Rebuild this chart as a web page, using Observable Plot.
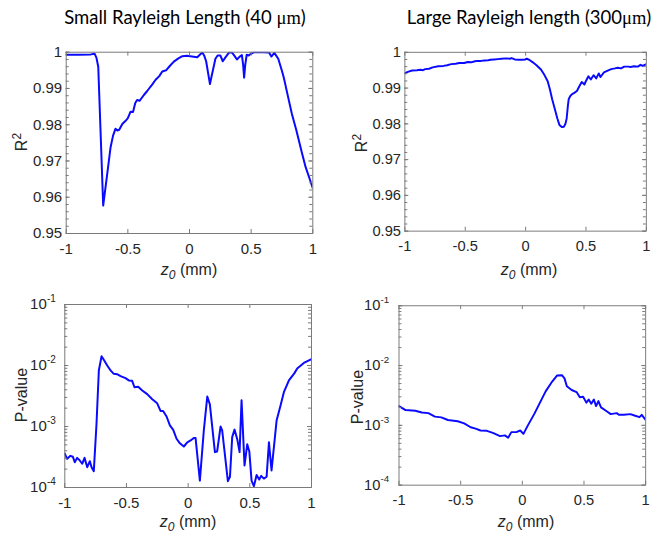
<!DOCTYPE html>
<html><head><meta charset="utf-8">
<script src="https://cdn.jsdelivr.net/npm/d3@7"></script>
<script src="https://cdn.jsdelivr.net/npm/@observablehq/plot@0.6"></script>
<style>
body{margin:0;background:#fff;overflow:hidden}
#root{position:relative;width:653px;height:538px;overflow:hidden;font-family:"Liberation Sans",Arial,sans-serif;color:#262626}
.panel{position:absolute}
.panel svg{overflow:visible}
.title{position:absolute;font-family:Lato,"Open Sans",sans-serif;font-size:18.5px;color:#000;white-space:nowrap;transform:translate(-50%,-50%)}
.um{font-family:"Liberation Serif",serif}
.xlab{position:absolute;font-size:16px;white-space:nowrap;transform:translate(-50%,-50%)}
.ylab{position:absolute;font-size:16px;white-space:nowrap;transform:translate(-50%,-50%) rotate(-90deg)}
.ylab sup{font-size:12px;vertical-align:6px;line-height:0}
</style></head><body><div id="root"></div><script>
// ---- tick values & labels ----
const xTicks = [-1, -0.5, 0, 0.5, 1];
const xTickLabels = ["-1", "-0.5", "0", "0.5", "1"];
const r2Ticks = [0.95, 0.96, 0.97, 0.98, 0.99, 1];
const r2TickLabels = ["0.95", "0.96", "0.97", "0.98", "0.99", "1"];
const pTicks = [1e-4, 1e-3, 1e-2, 1e-1];
const pTickBase = ["10", "10", "10", "10"];
const pTickExp = ["-4", "-3", "-2", "-1"];

// ---- Small Rayleigh length: R^2 ----
const smallR2_z = [-1, -0.9, -0.8, -0.77, -0.755, -0.74, -0.70, -0.667, -0.64, -0.62, -0.60, -0.585, -0.57, -0.545, -0.52, -0.50, -0.478, -0.458, -0.44, -0.425, -0.405, -0.37, -0.343, -0.30, -0.275, -0.245, -0.221, -0.19, -0.16, -0.127, -0.09, -0.058, -0.02, 0.02, 0.063, 0.09, 0.104, 0.12, 0.135, 0.152, 0.166, 0.18, 0.193, 0.21, 0.228, 0.25, 0.27, 0.29, 0.32, 0.345, 0.365, 0.385, 0.405, 0.425, 0.435, 0.443, 0.452, 0.464, 0.48, 0.495, 0.523, 0.6, 0.645, 0.664, 0.688, 0.72, 0.75, 0.766, 0.794, 0.83, 0.867, 0.91, 0.942, 0.97, 1.0];
const smallR2_v = [0.9993, 0.9993, 0.9994, 0.9996, 0.9985, 0.9960, 0.9577, 0.9665, 0.9738, 0.9770, 0.9789, 0.9784, 0.9786, 0.9802, 0.9810, 0.9818, 0.9836, 0.9835, 0.9860, 0.9868, 0.9866, 0.9882, 0.9893, 0.9912, 0.9924, 0.9934, 0.9947, 0.9950, 0.9962, 0.9974, 0.9983, 0.9989, 0.9990, 0.9988, 0.9986, 0.9995, 0.9999, 0.9990, 0.9975, 0.9940, 0.9912, 0.9935, 0.9955, 0.9982, 0.9991, 0.9991, 0.9975, 0.9985, 0.9999, 0.9999, 0.9990, 0.9980, 0.9987, 0.9992, 0.9965, 0.9930, 0.9965, 0.9993, 0.9991, 0.9995, 1.0, 1.0, 0.9999, 0.9988, 0.9998, 0.9982, 0.9948, 0.9928, 0.9885, 0.9830, 0.9784, 0.9725, 0.9683, 0.9655, 0.9625];

// ---- Large Rayleigh length: R^2 ----
const largeR2_z = [-1, -0.97, -0.94, -0.9, -0.87, -0.85, -0.832, -0.8, -0.77, -0.724, -0.68, -0.65, -0.616, -0.58, -0.55, -0.508, -0.48, -0.45, -0.42, -0.4, -0.37, -0.34, -0.31, -0.292, -0.26, -0.23, -0.2, -0.16, -0.13, -0.116, -0.09, -0.06, -0.03, -0.005, 0.01, 0.035, 0.06, 0.09, 0.127, 0.155, 0.182, 0.2, 0.22, 0.243, 0.263, 0.28, 0.3, 0.317, 0.33, 0.34, 0.35, 0.357, 0.37, 0.385, 0.4, 0.425, 0.445, 0.465, 0.487, 0.5, 0.52, 0.54, 0.563, 0.585, 0.606, 0.62, 0.649, 0.68, 0.709, 0.74, 0.763, 0.79, 0.817, 0.85, 0.87, 0.898, 0.93, 0.952, 0.97, 1.0];
const largeR2_v = [0.9942, 0.9946, 0.9949, 0.9950, 0.9951, 0.9950, 0.9953, 0.9954, 0.9958, 0.9961, 0.9962, 0.9964, 0.9967, 0.9968, 0.9970, 0.9970, 0.9973, 0.9972, 0.9975, 0.9976, 0.9976, 0.9977, 0.9978, 0.9979, 0.9980, 0.9981, 0.9982, 0.9983, 0.9982, 0.9984, 0.9980, 0.9979, 0.9979, 0.9980, 0.9982, 0.9978, 0.9972, 0.9964, 0.9952, 0.9937, 0.9920, 0.9898, 0.9869, 0.9840, 0.9815, 0.9797, 0.9791, 0.9792, 0.9800, 0.9815, 0.9850, 0.9869, 0.9878, 0.9883, 0.9886, 0.9892, 0.9905, 0.9917, 0.9910, 0.9920, 0.9933, 0.9924, 0.9936, 0.9927, 0.9941, 0.9931, 0.9944, 0.9949, 0.9953, 0.9955, 0.9957, 0.9955, 0.9960, 0.9960, 0.9959, 0.9961, 0.9960, 0.9965, 0.9962, 0.9967];

// ---- Small Rayleigh length: P-value ----
const smallP_z = [-1, -0.981, -0.954, -0.935, -0.919, -0.9, -0.88, -0.859, -0.84, -0.818, -0.797, -0.783, -0.765, -0.743, -0.724, -0.702, -0.684, -0.656, -0.629, -0.603, -0.576, -0.548, -0.508, -0.481, -0.454, -0.435, -0.405, -0.372, -0.332, -0.291, -0.251, -0.224, -0.203, -0.175, -0.148, -0.121, -0.094, -0.067, -0.035, -0.007, 0.02, 0.046, 0.06, 0.095, 0.127, 0.155, 0.176, 0.217, 0.235, 0.263, 0.276, 0.322, 0.339, 0.357, 0.376, 0.398, 0.417, 0.433, 0.457, 0.479, 0.496, 0.514, 0.533, 0.555, 0.576, 0.592, 0.614, 0.636, 0.655, 0.676, 0.717, 0.749, 0.776, 0.817, 0.862, 0.884, 0.938, 1.0];
const smallP_v = [3.6e-4, 2.95e-4, 3.3e-4, 3.2e-4, 2.6e-4, 3.06e-4, 2.8e-4, 2.45e-4, 3.06e-4, 2.15e-4, 2.7e-4, 2.15e-4, 1.85e-4, 1.1e-3, 8.3e-3, 1.42e-2, 1.24e-2, 1.0e-2, 8.3e-3, 7.3e-3, 7.2e-3, 6.7e-3, 6.2e-3, 5.7e-3, 5.6e-3, 4.4e-3, 4.5e-3, 3.9e-3, 3.4e-3, 2.8e-3, 2.4e-3, 1.8e-3, 1.8e-3, 1.46e-3, 1.04e-3, 8.8e-4, 6.3e-4, 5.3e-4, 4.7e-4, 5.5e-4, 5.9e-4, 6.5e-4, 6.5e-4, 1.3e-4, 8.6e-4, 3.1e-3, 2.3e-3, 3.8e-4, 3.9e-4, 1.0e-3, 8.6e-4, 1.27e-4, 1.5e-4, 6.7e-4, 8.9e-4, 6.2e-4, 3.8e-4, 2.7e-3, 2.3e-4, 5.1e-4, 3.9e-4, 1.3e-4, 1.05e-4, 1.6e-4, 1.35e-4, 1.55e-4, 1.4e-4, 1.5e-4, 5.5e-4, 1.9e-4, 1.25e-3, 2.2e-3, 3.65e-3, 5.7e-3, 7.5e-3, 8.9e-3, 1.1e-2, 1.27e-2];

// ---- Large Rayleigh length: P-value ----
const largeP_z = [-1, -0.947, -0.868, -0.815, -0.762, -0.709, -0.657, -0.604, -0.524, -0.472, -0.419, -0.379, -0.339, -0.287, -0.234, -0.181, -0.141, -0.115, -0.089, -0.049, -0.017, 0.009, 0.044, 0.096, 0.136, 0.189, 0.242, 0.281, 0.321, 0.342, 0.361, 0.4, 0.44, 0.466, 0.493, 0.519, 0.538, 0.559, 0.58, 0.598, 0.617, 0.638, 0.678, 0.717, 0.765, 0.783, 0.823, 0.876, 0.915, 0.95, 0.968, 1.0];
const largeP_v = [2.1e-3, 1.8e-3, 1.75e-3, 1.64e-3, 1.6e-3, 1.4e-3, 1.36e-3, 1.23e-3, 1.17e-3, 1.08e-3, 9.3e-4, 8.8e-4, 8.2e-4, 8.1e-4, 7.4e-4, 6.6e-4, 6.8e-4, 6.2e-4, 7.7e-4, 7.7e-4, 8.2e-4, 7.2e-4, 9.9e-4, 1.54e-3, 2.24e-3, 3.7e-3, 5.4e-3, 6.8e-3, 6.9e-3, 6.1e-3, 4.5e-3, 3.9e-3, 3.6e-3, 2.95e-3, 3.0e-3, 2.4e-3, 2.7e-3, 2.3e-3, 2.7e-3, 2.1e-3, 2.55e-3, 2.0e-3, 1.75e-3, 1.54e-3, 1.6e-3, 1.5e-3, 1.5e-3, 1.54e-3, 1.45e-3, 1.37e-3, 1.5e-3, 1.23e-3];

const toRows = (zs, vs) => zs.map((z, i) => ({z, v: vs[i]}));

const r2Minor = d3.range(0, 26).map(i => 0.95 + i * 0.002);
const pMinor = [];
for (let e = -4; e < -1; e++) for (let k = 1; k <= 9; k++) pMinor.push(k * Math.pow(10, e));
pMinor.push(1e-1);

const root = document.getElementById("root");
const FRAME = "#7a7a7a";
const INK = "#262626";
const FS = 15;

function panel({x0, y0, w, h, L, R, T, B, rows, log, yPadLabel}) {
  const yTicks = log ? pTicks : r2Ticks;
  const yMinor = log ? pMinor : r2Minor;
  const xFmt = new Map(xTicks.map((d, i) => [d, xTickLabels[i]]));
  const pw = R - L, ph = B - T;
  const tk = 4;
  const yLabelMarks = log
    ? [
        Plot.text(pTicks, {y: d => d, frameAnchor: "left", text: (d, i) => pTickBase[i], textAnchor: "end", dx: -(yPadLabel + 9), fontSize: FS, fill: INK}),
        Plot.text(pTicks, {y: d => d, frameAnchor: "left", text: (d, i) => pTickExp[i], textAnchor: "end", dx: -yPadLabel, dy: -6, fontSize: 10, fill: INK})
      ]
    : [
        Plot.axisY(r2Ticks, {anchor: "left", tickSize: 0, tickPadding: yPadLabel, fontSize: FS, fill: INK, tickFormat: d => r2TickLabels[r2Ticks.indexOf(d)], label: null})
      ];
  const chart = Plot.plot({
    width: w, height: h,
    marginLeft: L - x0, marginRight: x0 + w - R, marginTop: T - y0, marginBottom: y0 + h - B,
    style: {fontFamily: "'Liberation Sans', Arial, sans-serif", fontSize: FS + "px", color: INK, background: "transparent"},
    x: {domain: [-1, 1]},
    y: log ? {type: "log", domain: [1e-4, 1e-1], axis: null} : {domain: [0.95, 1]},
    marks: [
      Plot.line(rows, {x: "z", y: "v", stroke: "#0a0aff", strokeWidth: 2, clip: true}),
      // inward tick marks (MATLAB style) on all four sides
      Plot.tickX(xTicks, {x: d => d, stroke: FRAME, insetTop: ph - tk}),
      Plot.tickX(xTicks, {x: d => d, stroke: FRAME, insetBottom: ph - tk}),
      Plot.tickY(yMinor, {y: d => d, stroke: FRAME, insetRight: pw - 3}),
      Plot.tickY(yMinor, {y: d => d, stroke: FRAME, insetLeft: pw - 3}),
      Plot.tickY(yTicks, {y: d => d, stroke: FRAME, insetRight: pw - tk}),
      Plot.tickY(yTicks, {y: d => d, stroke: FRAME, insetLeft: pw - tk}),
      Plot.frame({stroke: FRAME}),
      Plot.axisX(xTicks, {anchor: "bottom", tickSize: 0, tickPadding: 10, fontSize: FS, fill: INK, tickFormat: d => xFmt.get(d), label: null}),
      ...yLabelMarks
    ]
  });
  const div = document.createElement("div");
  div.className = "panel";
  div.style.left = x0 + "px";
  div.style.top = y0 + "px";
  div.appendChild(chart);
  root.appendChild(div);
}

function html(cls, x, y, content) {
  const d = document.createElement("div");
  d.className = cls;
  d.style.left = x + "px";
  d.style.top = y + "px";
  d.innerHTML = content;
  root.appendChild(d);
}

panel({x0: 0, y0: 30, w: 326, h: 240, L: 65.7, R: 312.3, T: 51.7, B: 233, rows: toRows(smallR2_z, smallR2_v), log: false, yPadLabel: 4});
panel({x0: 330, y0: 30, w: 330, h: 240, L: 406, R: 652.7, T: 52.3, B: 235, rows: toRows(largeR2_z, largeR2_v), log: false, yPadLabel: 4});
panel({x0: 0, y0: 285, w: 326, h: 225, L: 64.3, R: 311, T: 304, B: 487, rows: toRows(smallP_z, smallP_v), log: true, yPadLabel: 9});
panel({x0: 330, y0: 285, w: 330, h: 225, L: 400, R: 652, T: 305.7, B: 489, rows: toRows(largeP_z, largeP_v), log: true, yPadLabel: 10});

html("title", 185, 17, 'Small Rayleigh Length (40 <span class="um">\u03BCm</span>)');
html("title", 529, 17, 'Large Rayleigh length (300<span class="um">\u03BCm</span>)');
html("ylab", 22, 142, "R<sup>2</sup>");
html("ylab", 362, 143, "R<sup>2</sup>");
html("ylab", 22, 395, "P-value");
html("ylab", 358, 397, "P-value");
const zl = '<i>z</i><sub style="font-size:12px;vertical-align:-4px;line-height:0"><i>0</i></sub> (mm)';
html("xlab", 189, 270, zl);
html("xlab", 529, 270, zl);
html("xlab", 188, 522, zl);
html("xlab", 526, 522, zl);
</script></body></html>
